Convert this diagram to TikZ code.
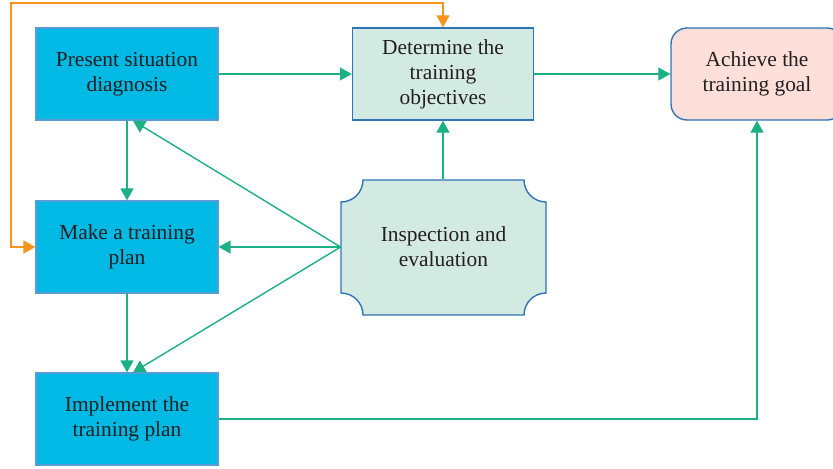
\documentclass[tikz,border=0pt]{standalone}
\usepackage{fontspec}
\setmainfont{Liberation Serif}
\usetikzlibrary{arrows.meta,calc}

\definecolor{boxcyan}{HTML}{00B9E4}
\definecolor{cyanline}{HTML}{5B9BD5}
\definecolor{mint}{HTML}{D3EAE2}
\definecolor{rose}{HTML}{FCDFD9}
\definecolor{edgeblue}{HTML}{2E75B6}
\definecolor{flowgreen}{HTML}{1BB085}
\definecolor{loopamber}{HTML}{F7941D}
\definecolor{inkgray}{HTML}{231F20}

\tikzset{
  stagebox/.style={draw=cyanline, fill=boxcyan, line width=0.6pt, minimum width=91pt, minimum height=46pt, align=center, text=inkgray},
  mintbox/.style={draw=edgeblue, fill=mint, line width=0.7pt, minimum width=90.5pt, minimum height=46pt, align=center, text=inkgray},
  goalbox/.style={draw=edgeblue, fill=rose, line width=0.7pt, rounded corners=8pt, minimum width=86pt, minimum height=46pt, align=center, text=inkgray},
  flow/.style={draw=flowgreen, line width=0.7pt, -{Triangle[length=6pt,width=6.5pt]}},
  loopback/.style={draw=loopamber, line width=0.7pt, {Triangle[length=6pt,width=6.5pt]}-{Triangle[length=6pt,width=6.5pt]}}
}

\begin{document}
\begin{tikzpicture}[x=0.5pt, y=0.5pt, font=\fontsize{10.7pt}{12.5pt}\selectfont]
  \clip (0,0) rectangle (833,468);
  \fill[white] (0,0) rectangle (833,468);

  \node[stagebox] (diag) at (127,394) {Present situation\\diagnosis};
  \node[stagebox] (plan) at (127,221) {Make a training\\plan};
  \node[stagebox] (impl) at (127,49) {Implement the\\training plan};
  \node[mintbox] (obj) at (443,394) {Determine the\\training\\objectives};
  \node[goalbox] (goal) at (757,394) {Achieve the\\training goal};

  % inspection box with hollow corners
  \fill[mint, draw=edgeblue, line width=0.7pt]
    (341,266) arc[start angle=270, end angle=360, radius=22] -- (524,288)
    arc[start angle=180, end angle=270, radius=22] -- (546,175)
    arc[start angle=90, end angle=180, radius=22] -- (363,153)
    arc[start angle=0, end angle=90, radius=22] -- cycle;
  \node[align=center, text=inkgray, minimum width=102.5pt, minimum height=67.5pt] (insp) at (443.5,221) {Inspection and\\evaluation};

  \draw[flow] (diag.east) -- (obj.west);
  \draw[flow] (obj.east) -- (goal.west);
  \draw[flow] (insp.north -| obj.south) -- (obj.south);
  \draw[flow] (diag.south) -- (plan.north);
  \draw[flow] (plan.south) -- (impl.north);
  \draw[flow] (insp.west) -- (plan.east);
  \draw[flow] (insp.west) -- ([xshift=3pt]diag.south);
  \draw[flow] (insp.west) -- ([xshift=3pt]impl.north);
  \draw[flow] (impl.east) -| (goal.south);

  \coordinate (corner) at (11,465);
  \draw[loopback] (obj.north) |- (corner) |- (plan.west);
\end{tikzpicture}
\end{document}
